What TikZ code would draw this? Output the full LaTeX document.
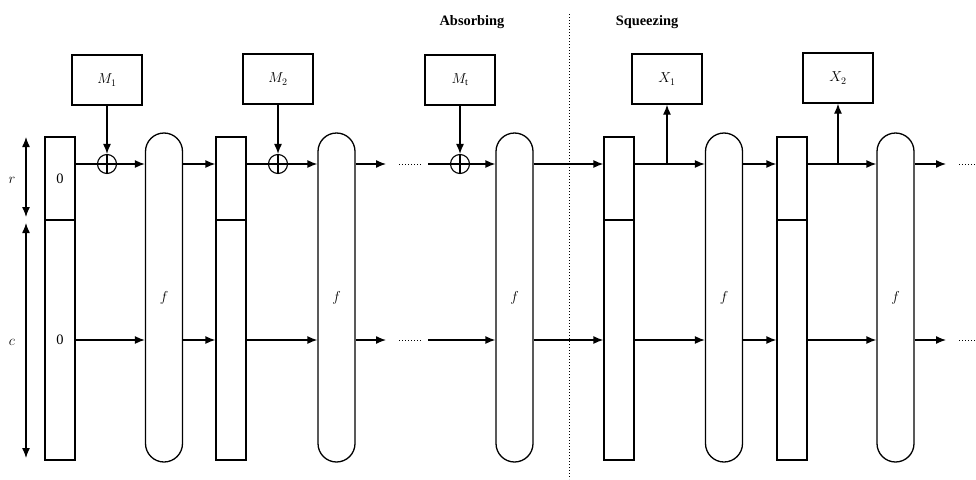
\documentclass[tikz,border=0pt]{standalone}
\usepackage{fontspec}
\setmainfont{Liberation Serif}
\usepackage{tikz}
\usetikzlibrary{arrows.meta, positioning}

\tikzset{
  ratebox/.style={draw, line width=1.3pt, minimum width=30pt, minimum height=83pt, inner sep=0pt, font=\Large},
  capbox/.style={draw, line width=1.3pt, minimum width=30pt, minimum height=240pt, inner sep=0pt, font=\Large},
  perm/.style={draw, line width=1.3pt, minimum width=37pt, minimum height=329pt, rounded corners=18.5pt, inner sep=0pt, font=\Large},
  msg/.style={draw, line width=1.3pt, minimum width=70pt, minimum height=50pt, inner sep=0pt, font=\Large},
  xor/.style={draw, circle, line width=1.1pt, minimum size=19pt, inner sep=0pt},
  flow/.style={line width=1.3pt, -{Latex[length=10pt,width=8pt]}},
  wire/.style={line width=1.3pt},
}

\begin{document}
\begin{tikzpicture}[x=1pt,y=-1pt]
\useasboundingbox (0,0) rectangle (976,479);
\coordinate (top) at (0,164);
\coordinate (bot) at (0,340);
% state columns
\node[ratebox] (s1r) at (60,178.5) {0};
\node[capbox] (s1c) at (60,340) {0};
\node[ratebox] (s2r) at (231,178.5) {};
\node[capbox] (s2c) at (231,340) {};
\node[ratebox] (s3r) at (619,178.5) {};
\node[capbox] (s3c) at (619,340) {};
\node[ratebox] (s4r) at (792,178.5) {};
\node[capbox] (s4c) at (792,340) {};
% permutations
\node[perm] (f1) at (164,297.5) {$f$};
\node[perm] (f2) at (336.5,297.5) {$f$};
\node[perm] (f3) at (514.5,297.5) {$f$};
\node[perm] (f4) at (724,297.5) {$f$};
\node[perm] (f5) at (895.5,297.5) {$f$};
% message and output blocks
\node[msg] (m1) at (107,80) {$M_1$};
\node[msg] (m2) at (278,79) {$M_2$};
\node[msg] (mt) at (460,80) {$M_{\mathrm{t}}$};
\node[msg] (x1) at (667,79) {$X_1$};
\node[msg] (x2) at (838,78) {$X_2$};
\node[xor] (a1) at (107,164) {};
\node[xor] (a2) at (278,164) {};
\node[xor] (a3) at (460,164) {};
\foreach \n in {a1,a2,a3}
  \draw[line width=1.1pt] (\n.north) -- (\n.south) (\n.west) -- (\n.east);
% absorbing
\draw[flow] (m1) -- (a1);
\draw[flow] (m2) -- (a2);
\draw[flow] (mt) -- (a3);
\draw[wire] (s1r.east |- top) -- (a1);
\draw[flow] (a1) -- (f1.west |- top);
\draw[flow] (s1c.east) -- (f1.west |- bot);
\draw[flow] (f1.east |- top) -- (s2r.west |- top);
\draw[flow] (f1.east |- bot) -- (s2c.west);
\draw[wire] (s2r.east |- top) -- (a2);
\draw[flow] (a2) -- (f2.west |- top);
\draw[flow] (s2c.east) -- (f2.west |- bot);
\coordinate (e1) at (386,164);
\coordinate (e2) at (386,340);
\draw[flow] (f2.east |- top) -- (e1);
\draw[flow] (f2.east |- bot) -- (e2);
\draw[line width=1pt, dotted] (399,164) -- (421,164);
\draw[line width=1pt, dotted] (399,340) -- (421,340);
\coordinate (g1) at (428,164);
\coordinate (g2) at (428,340);
\draw[wire] (g1) -- (a3);
\draw[flow] (a3) -- (f3.west |- top);
\draw[flow] (g2) -- (f3.west |- bot);
% squeezing
\draw[flow] (f3.east |- top) -- (s3r.west |- top);
\draw[flow] (f3.east |- bot) -- (s3c.west);
\draw[flow] (s3r.east |- top) -- (f4.west |- top);
\draw[flow] (x1.south |- top) -- (x1.south);
\draw[flow] (s3c.east) -- (f4.west |- bot);
\draw[flow] (f4.east |- top) -- (s4r.west |- top);
\draw[flow] (f4.east |- bot) -- (s4c.west);
\draw[flow] (s4r.east |- top) -- (f5.west |- top);
\draw[flow] (x2.south |- top) -- (x2.south);
\draw[flow] (s4c.east) -- (f5.west |- bot);
\coordinate (h1) at (946,164);
\coordinate (h2) at (946,340);
\draw[flow] (f5.east |- top) -- (h1);
\draw[flow] (f5.east |- bot) -- (h2);
\draw[line width=1pt, dotted] (959,164) -- (976,164);
\draw[line width=1pt, dotted] (959,340) -- (976,340);
% phases
\draw[line width=1pt, dotted] (569,14) -- (569,479);
\node[font=\Large\bfseries] (ab) at (472,22) {Absorbing};
\node[font=\Large\bfseries] (sq) at (647,22) {Squeezing};
% sizes
\draw[line width=1.3pt, {Latex[length=10pt,width=8pt]}-{Latex[length=10pt,width=8pt]}] (26,137) -- (26,217);
\draw[line width=1.3pt, {Latex[length=10pt,width=8pt]}-{Latex[length=10pt,width=8pt]}] (26,223) -- (26,458);
\node[font=\Large] (rl) at (12,180) {$r$};
\node[font=\Large] (cl) at (12,342) {$c$};
\end{tikzpicture}
\end{document}
